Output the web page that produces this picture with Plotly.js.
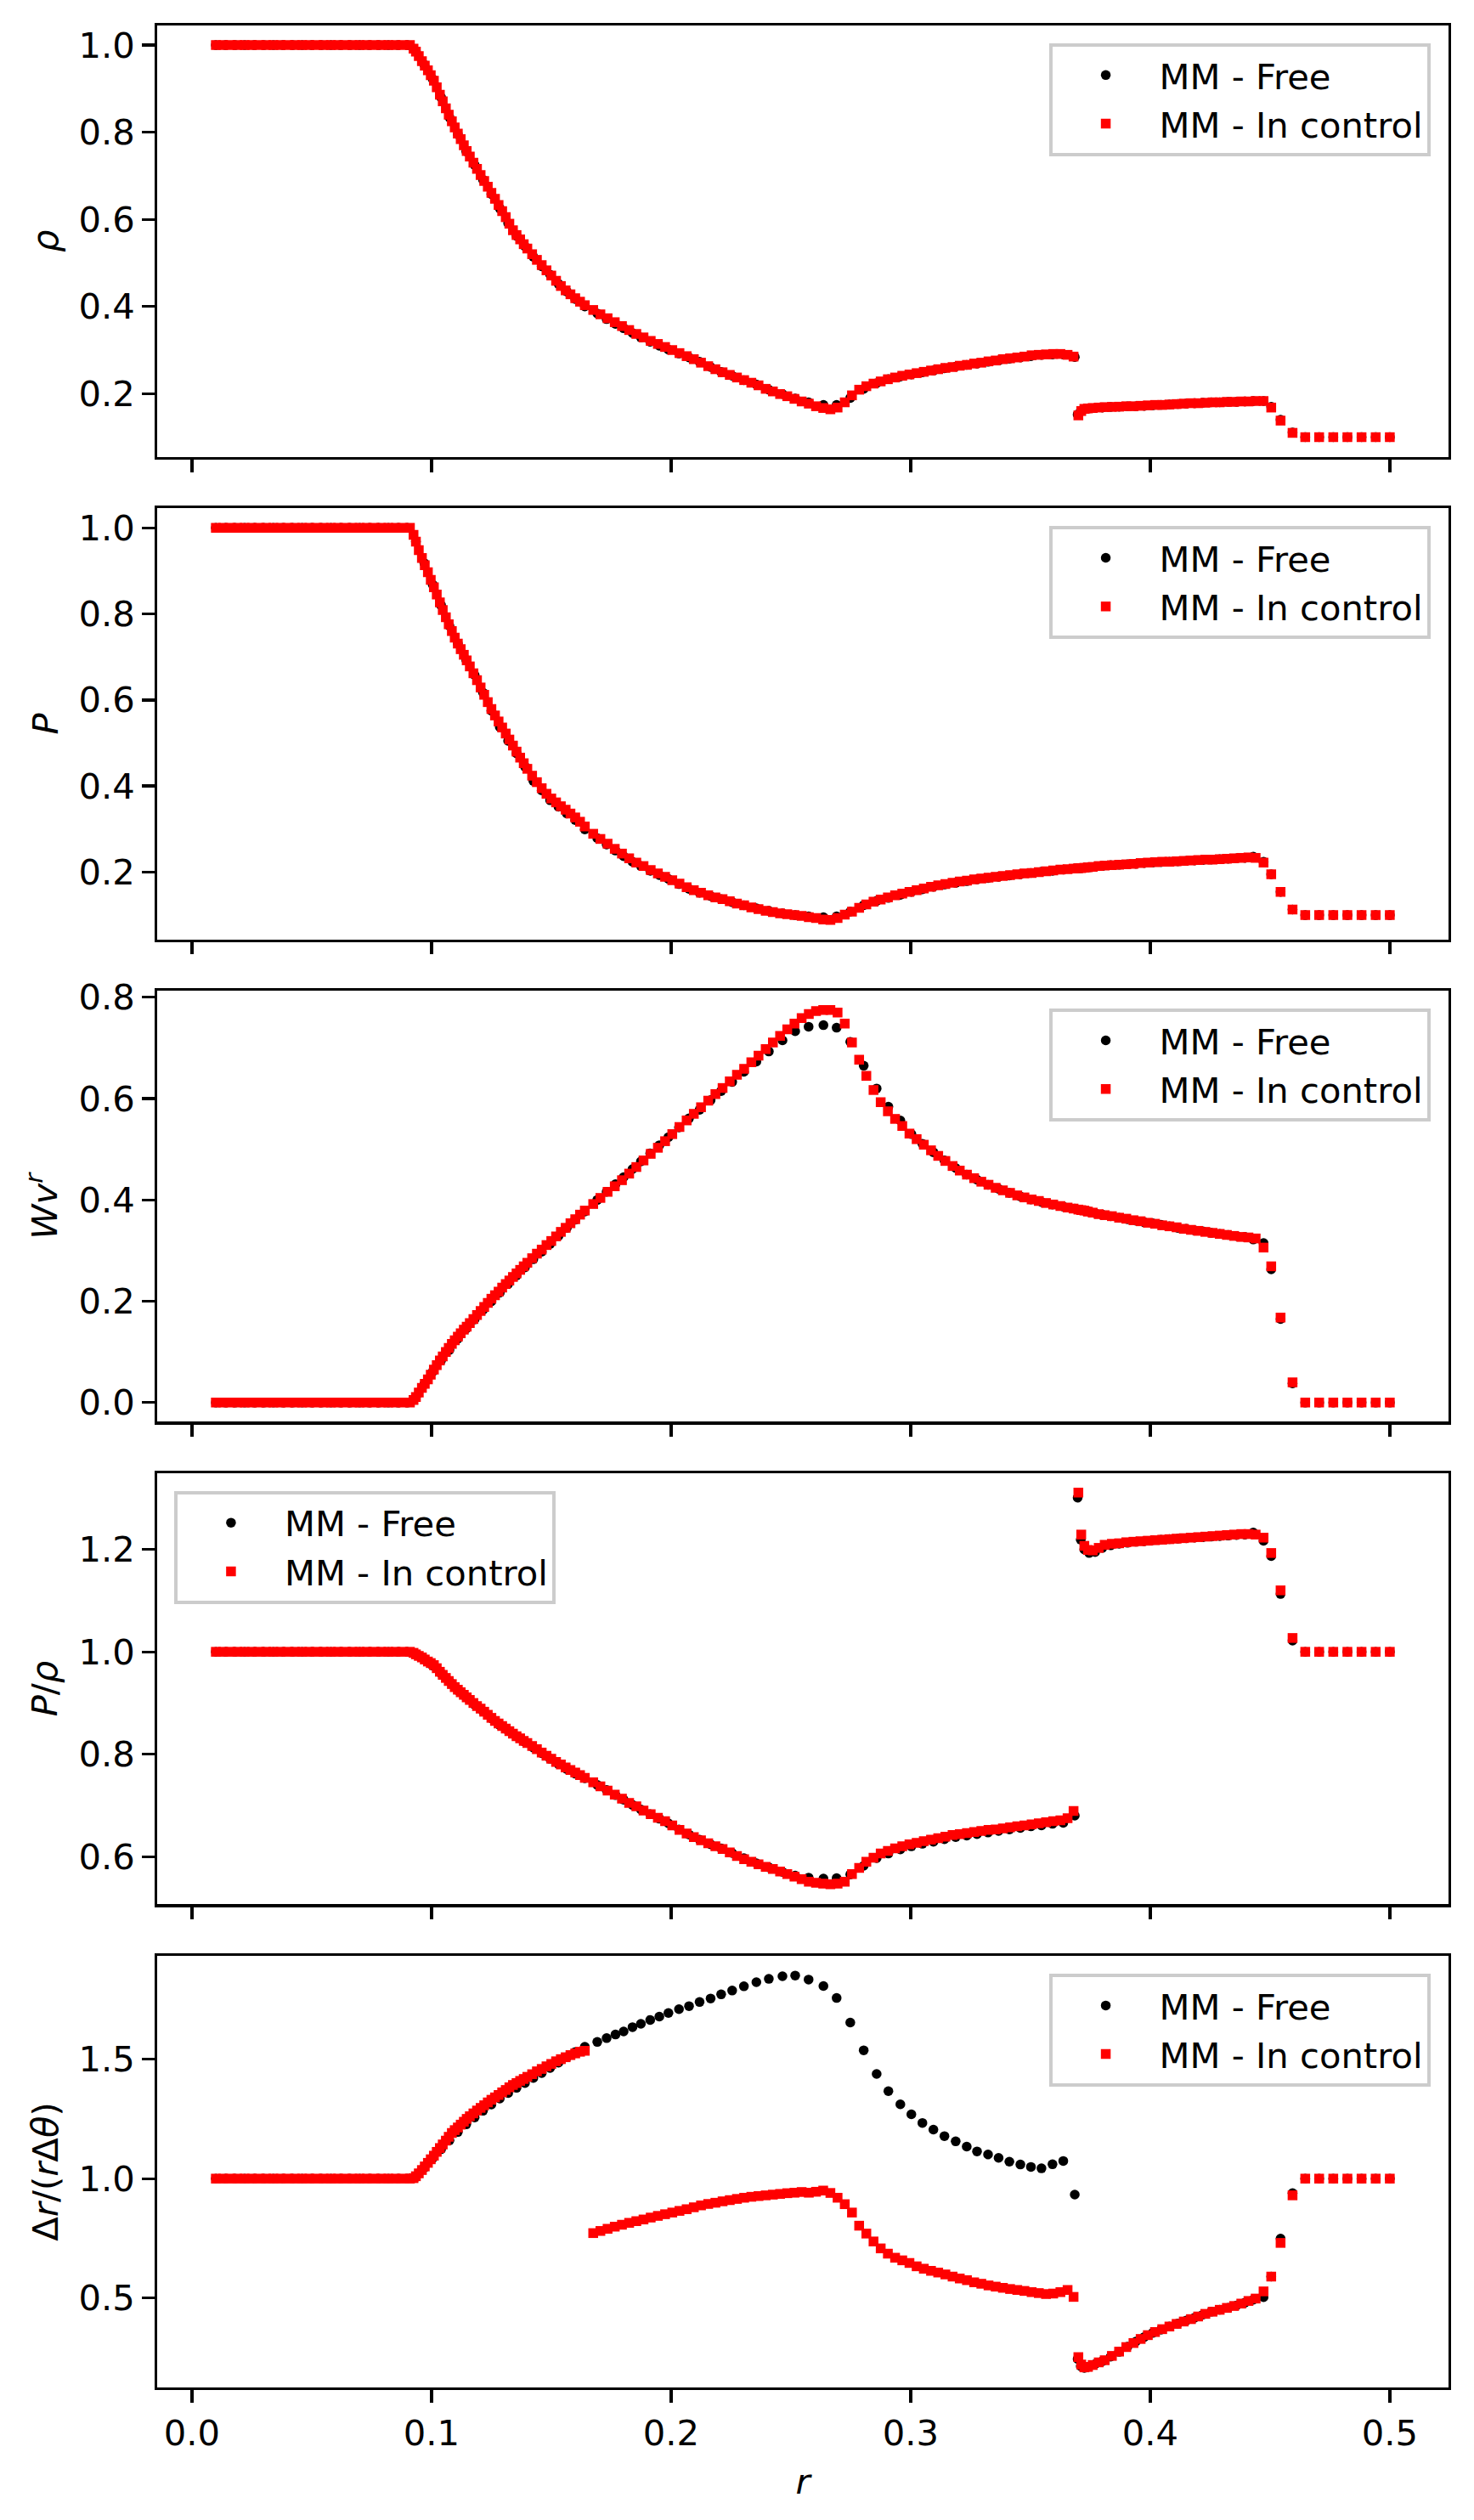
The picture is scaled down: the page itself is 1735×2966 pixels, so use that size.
<!DOCTYPE html>
<html><head><meta charset="utf-8">
<script src="https://cdn.plot.ly/plotly-3.0.1.min.js"></script>
<style>html,body{margin:0;padding:0;background:#fff}</style>
</head><body>
<div id="chart" style="width:1735px;height:2966px"></div>
<script>
// ---------------- data: MM - Free (black dots) ----------------
const rFree = [
 0.010,0.014,0.018,0.022,0.026,0.030,0.034,0.038,0.042,0.046,0.050,0.054,0.058,0.062,0.066,0.070,0.074,0.078,0.082,0.086,0.090,
 0.0935,0.0970,0.1005,0.1040,0.1075,0.1110,0.1145,0.1180,0.1215,0.1250,0.1285,0.1320,0.1355,0.1390,0.1425,0.1460,0.1495,0.1530,0.1565,0.1600,
 0.1640,0.1692,0.1731,0.1768,0.1802,0.1839,0.1874,0.1913,0.1951,0.1989,0.2033,0.2075,0.2119,0.2165,0.2209,0.2255,0.2304,0.2356,0.2408,0.2465,
 0.2518,0.2574,0.2636,0.2691,0.2748,0.2804,0.2858,0.2907,0.2957,0.3003,0.3049,0.3095,0.3141,0.3188,0.3234,0.3277,0.3323,0.3367,0.3412,0.3458,
 0.3502,0.3546,0.3592,0.3637,0.3685,
 0.3697,0.3710,0.3725,0.3745,0.3770,0.3800,0.3835,0.3870,0.3905,0.3940,0.3975,0.4010,0.4045,0.4080,0.4115,0.4150,0.4185,0.4220,0.4255,0.4290,
 0.4325,0.4360,0.4395,0.4430,
 0.4473,0.4505,0.4544,0.4594,0.4647,0.4705,0.4764,0.4823,0.4882,0.4941,0.5000
];
const rhoFree = [
 1,1,1,1,1,1,1,1,1,1,1,1,1,1,1,1,1,1,1,1,1,
 0.985,0.955,0.922,0.880,0.834,0.795,0.756,0.725,0.691,0.658,0.625,0.591,0.562,0.538,0.514,0.492,0.473,0.452,0.434,0.417,
 0.400,0.384,0.371,0.360,0.350,0.339,0.329,0.319,0.310,0.301,0.292,0.283,0.273,0.261,0.250,0.241,0.231,0.221,0.209,0.199,
 0.189,0.180,0.174,0.174,0.190,0.211,0.224,0.233,0.239,0.244,0.249,0.253,0.258,0.262,0.266,0.269,0.273,0.276,0.280,0.283,
 0.286,0.289,0.290,0.290,0.284,
 0.152,0.160,0.164,0.166,0.167,0.168,0.1695,0.170,0.171,0.171,0.172,0.173,0.174,0.175,0.176,0.177,0.178,0.179,0.180,0.180,
 0.181,0.181,0.182,0.183,
 0.183,0.170,0.140,0.111,0.1,0.1,0.1,0.1,0.1,0.1,0.1
];
const pFree = [
 1,1,1,1,1,1,1,1,1,1,1,1,1,1,1,1,1,1,1,1,1,
 0.968,0.918,0.868,0.820,0.772,0.731,0.693,0.658,0.617,0.575,0.537,0.505,0.476,0.445,0.412,0.390,0.367,0.352,0.336,0.321,
 0.299,0.279,0.264,0.250,0.237,0.224,0.214,0.203,0.193,0.184,0.172,0.161,0.152,0.144,0.137,0.130,0.123,0.116,0.110,0.104,
 0.100,0.097,0.095,0.097,0.108,0.123,0.133,0.140,0.147,0.154,0.160,0.166,0.171,0.175,0.179,0.183,0.186,0.189,0.192,0.195,
 0.198,0.201,0.203,0.206,0.208,
 0.209,0.209,0.210,0.211,0.212,0.214,0.216,0.217,0.218,0.219,0.221,0.222,0.223,0.224,0.225,0.226,0.227,0.228,0.229,0.230,
 0.231,0.232,0.233,0.236,
 0.224,0.195,0.154,0.113,0.1,0.1,0.1,0.1,0.1,0.1,0.1
];
const wvFree = [
 0,0,0,0,0,0,0,0,0,0,0,0,0,0,0,0,0,0,0,0,0,
 0.011,0.036,0.061,0.083,0.104,0.126,0.146,0.164,0.183,0.200,0.217,0.234,0.251,0.267,0.283,0.298,0.313,0.329,0.345,0.361,
 0.377,0.400,0.416,0.431,0.445,0.461,0.476,0.492,0.508,0.524,0.543,0.561,0.578,0.597,0.615,0.633,0.653,0.673,0.693,0.715,
 0.733,0.742,0.745,0.740,0.712,0.665,0.620,0.584,0.557,0.530,0.511,0.494,0.478,0.463,0.450,0.440,0.430,0.422,0.414,0.407,
 0.401,0.396,0.391,0.387,0.383,
 0.381,0.380,0.379,0.377,0.374,0.371,0.368,0.365,0.362,0.359,0.356,0.354,0.351,0.348,0.345,0.343,0.340,0.338,0.335,0.333,
 0.331,0.329,0.327,0.322,
 0.315,0.263,0.165,0.038,0,0,0,0,0,0,0
];
const prhoFree = [
 1,1,1,1,1,1,1,1,1,1,1,1,1,1,1,1,1,1,1,1,1,
 0.995,0.986,0.973,0.958,0.943,0.925,0.911,0.897,0.884,0.870,0.857,0.846,0.835,0.824,0.813,0.802,0.791,0.781,0.771,0.762,
 0.753,0.740,0.730,0.720,0.711,0.701,0.692,0.683,0.674,0.665,0.653,0.643,0.633,0.624,0.616,0.607,0.597,0.587,0.579,0.570,
 0.563,0.559,0.557,0.558,0.565,0.582,0.597,0.606,0.614,0.620,0.625,0.629,0.634,0.638,0.641,0.644,0.647,0.650,0.653,0.656,
 0.659,0.661,0.664,0.666,0.680,
 1.301,1.219,1.200,1.193,1.195,1.203,1.208,1.211,1.213,1.215,1.216,1.218,1.219,1.220,1.221,1.222,1.223,1.224,1.225,1.226,
 1.227,1.228,1.229,1.233,
 1.217,1.187,1.113,1.022,1,1,1,1,1,1,1
];
const aspFree = [
 1,1,1,1,1,1,1,1,1,1,1,1,1,1,1,1,1,1,1,1,1,
 1.006,1.045,1.085,1.123,1.160,1.195,1.227,1.256,1.284,1.310,1.335,1.358,1.380,1.400,1.421,1.442,1.463,1.485,1.508,1.530,
 1.552,1.572,1.588,1.603,1.616,1.634,1.648,1.664,1.678,1.693,1.709,1.722,1.739,1.754,1.771,1.787,1.805,1.822,1.836,1.847,
 1.850,1.833,1.806,1.756,1.653,1.537,1.438,1.366,1.311,1.269,1.233,1.205,1.178,1.156,1.134,1.114,1.101,1.087,1.071,1.059,
 1.049,1.043,1.060,1.074,0.933,
 0.245,0.215,0.208,0.213,0.224,0.236,0.255,0.275,0.297,0.318,0.337,0.354,0.368,0.381,0.394,0.406,0.418,0.431,0.443,0.451,
 0.459,0.469,0.481,0.493,
 0.504,0.590,0.749,0.939,1,1,1,1,1,1,1
];

// ---------------- data: MM - In control (red squares) ----------------
const rCtrl = [
 0.010,0.013,0.016,0.019,0.022,0.025,0.028,0.031,0.034,0.037,0.040,0.043,0.046,0.049,0.052,0.055,0.058,0.061,0.064,0.067,
 0.070,0.073,0.076,0.079,0.082,0.085,0.088,0.091,
 0.0925,0.0935,0.0947,0.0960,0.0972,0.0985,0.0997,0.1010,0.1022,0.1035,0.1047,0.1060,0.1072,0.1085,0.1097,0.1110,0.1122,0.1135,0.1147,0.1160,
 0.1175,0.1190,0.1205,0.1220,0.1235,0.1250,0.1265,0.1280,0.1295,0.1310,0.1325,0.1340,0.1355,0.1370,0.1385,0.1400,
 0.1420,0.1440,0.1460,0.1480,0.1500,0.1520,0.1540,0.1560,0.1580,0.1600,0.1620,0.1640,
 0.1675,0.1705,0.1735,0.1765,0.1795,0.1825,0.1855,0.1885,0.1915,0.1945,0.1975,0.2005,0.2035,0.2065,0.2095,0.2125,0.2155,0.2185,0.2215,0.2245,
 0.2275,0.2305,0.2335,0.2365,0.2395,0.2425,0.2455,0.2485,0.2515,0.2545,0.2575,0.2605,0.2635,0.2665,0.2695,0.2725,0.2755,0.2785,0.2815,0.2845,
 0.2875,0.2905,0.2935,0.2965,0.2995,0.3025,0.3055,0.3085,0.3115,0.3145,0.3175,0.3205,0.3235,0.3265,0.3295,0.3325,0.3355,0.3385,0.3415,0.3445,
 0.3475,0.3505,0.3535,0.3565,0.3595,0.3625,0.3655,0.3680,
 0.3700,0.3712,0.3725,0.3740,0.3760,0.3785,0.3810,0.3840,0.3870,0.3900,0.3930,0.3960,0.3990,0.4020,0.4050,0.4080,0.4110,0.4140,0.4170,0.4200,
 0.4230,0.4260,0.4290,0.4320,0.4350,0.4380,0.4410,0.4440,
 0.4473,0.4505,0.4544,0.4594,0.4647,0.4705,0.4764,0.4823,0.4882,0.4941,0.5000
];
const rhoCtrl = [
 1,1,1,1,1,1,1,1,1,1,1,1,1,1,1,1,1,1,1,1,1,1,1,1,1,1,1,1,
 0.992,0.985,0.975,0.963,0.953,0.942,0.931,0.918,0.903,0.886,0.871,0.855,0.840,0.825,0.811,0.797,0.784,0.770,0.757,0.744,
 0.730,0.716,0.702,0.688,0.675,0.661,0.647,0.633,0.619,0.605,0.590,0.575,0.564,0.554,0.543,0.533,
 0.520,0.507,0.495,0.483,0.471,0.459,0.447,0.437,0.428,0.419,0.411,0.403,
 0.392,0.382,0.373,0.364,0.355,0.346,0.337,0.329,0.321,0.314,0.307,0.300,0.293,0.286,0.279,0.271,0.263,0.256,0.249,0.243,
 0.237,0.231,0.225,0.219,0.211,0.205,0.199,0.194,0.188,0.182,0.177,0.171,0.167,0.164,0.168,0.180,0.196,0.209,0.217,0.223,
 0.228,0.233,0.237,0.241,0.244,0.247,0.250,0.253,0.256,0.259,0.261,0.264,0.266,0.269,0.271,0.274,0.276,0.279,0.281,0.283,
 0.285,0.288,0.289,0.290,0.291,0.291,0.289,0.285,
 0.150,0.160,0.165,0.166,0.167,0.168,0.169,0.1695,0.170,0.171,0.171,0.172,0.173,0.174,0.174,0.175,0.176,0.177,0.178,0.178,
 0.179,0.180,0.180,0.181,0.181,0.182,0.182,0.183,
 0.183,0.168,0.138,0.110,0.1,0.1,0.1,0.1,0.1,0.1,0.1
];
const pCtrl = [
 1,1,1,1,1,1,1,1,1,1,1,1,1,1,1,1,1,1,1,1,1,1,1,1,1,1,1,1,
 0.984,0.968,0.948,0.930,0.913,0.897,0.879,0.862,0.845,0.827,0.809,0.792,0.776,0.760,0.745,0.731,0.718,0.705,0.692,0.678,
 0.662,0.646,0.629,0.612,0.595,0.579,0.564,0.550,0.536,0.522,0.508,0.494,0.480,0.466,0.453,0.440,
 0.424,0.409,0.395,0.382,0.371,0.362,0.353,0.345,0.336,0.327,0.317,0.306,
 0.289,0.277,0.266,0.254,0.243,0.232,0.222,0.214,0.205,0.197,0.189,0.181,0.173,0.165,0.158,0.152,0.146,0.141,0.137,0.132,
 0.127,0.123,0.118,0.114,0.110,0.107,0.104,0.102,0.100,0.098,0.095,0.093,0.090,0.089,0.093,0.101,0.108,0.117,0.125,0.131,
 0.136,0.141,0.146,0.150,0.154,0.158,0.162,0.166,0.169,0.172,0.175,0.178,0.180,0.183,0.185,0.187,0.189,0.191,0.193,0.195,
 0.197,0.198,0.200,0.202,0.204,0.206,0.207,0.208,
 0.209,0.209,0.210,0.211,0.212,0.214,0.215,0.216,0.217,0.218,0.219,0.221,0.222,0.223,0.224,0.224,0.225,0.226,0.227,0.228,
 0.229,0.229,0.230,0.231,0.232,0.233,0.234,0.233,
 0.222,0.195,0.154,0.113,0.1,0.1,0.1,0.1,0.1,0.1,0.1
];
const wvCtrl = [
 0,0,0,0,0,0,0,0,0,0,0,0,0,0,0,0,0,0,0,0,0,0,0,0,0,0,0,0,
 0.005,0.011,0.020,0.029,0.037,0.046,0.055,0.065,0.074,0.083,0.091,0.100,0.108,0.116,0.123,0.130,0.137,0.144,0.150,0.157,
 0.165,0.173,0.181,0.189,0.197,0.205,0.212,0.219,0.227,0.234,0.241,0.248,0.255,0.262,0.269,0.276,
 0.285,0.294,0.302,0.311,0.319,0.328,0.337,0.345,0.354,0.362,0.371,0.379,
 0.392,0.404,0.416,0.427,0.439,0.452,0.465,0.478,0.491,0.503,0.516,0.530,0.544,0.557,0.570,0.583,0.596,0.609,0.621,0.634,
 0.647,0.659,0.672,0.685,0.698,0.711,0.724,0.737,0.748,0.759,0.767,0.773,0.775,0.775,0.770,0.748,0.711,0.677,0.645,0.617,
 0.593,0.575,0.560,0.546,0.531,0.520,0.509,0.498,0.487,0.477,0.467,0.458,0.450,0.443,0.436,0.430,0.424,0.419,0.414,0.409,
 0.405,0.401,0.398,0.394,0.391,0.388,0.385,0.383,
 0.381,0.380,0.379,0.377,0.375,0.372,0.370,0.368,0.365,0.363,0.360,0.358,0.355,0.353,0.350,0.348,0.346,0.343,0.341,0.339,
 0.337,0.335,0.333,0.331,0.329,0.327,0.326,0.324,
 0.306,0.269,0.168,0.040,0,0,0,0,0,0,0
];
const prhoCtrl = [
 1,1,1,1,1,1,1,1,1,1,1,1,1,1,1,1,1,1,1,1,1,1,1,1,1,1,1,1,
 0.998,0.995,0.992,0.989,0.985,0.981,0.978,0.974,0.968,0.961,0.955,0.949,0.943,0.937,0.931,0.926,0.921,0.916,0.911,0.906,
 0.900,0.894,0.889,0.883,0.877,0.871,0.865,0.860,0.855,0.850,0.845,0.840,0.835,0.831,0.826,0.822,
 0.816,0.810,0.803,0.797,0.791,0.785,0.780,0.774,0.769,0.764,0.759,0.754,
 0.745,0.737,0.729,0.721,0.713,0.705,0.698,0.690,0.683,0.676,0.669,0.661,0.652,0.645,0.638,0.632,0.626,0.620,0.615,0.608,
 0.601,0.595,0.590,0.585,0.580,0.576,0.571,0.566,0.561,0.556,0.551,0.549,0.547,0.546,0.547,0.551,0.566,0.578,0.590,0.598,
 0.606,0.611,0.616,0.620,0.624,0.627,0.630,0.633,0.636,0.639,0.642,0.644,0.646,0.648,0.650,0.652,0.653,0.655,0.657,0.659,
 0.661,0.663,0.665,0.667,0.669,0.671,0.675,0.689,
 1.311,1.229,1.207,1.199,1.198,1.203,1.209,1.211,1.212,1.214,1.215,1.216,1.217,1.218,1.219,1.220,1.221,1.222,1.223,1.224,
 1.225,1.226,1.227,1.228,1.229,1.230,1.230,1.229,
 1.223,1.193,1.120,1.027,1,1,1,1,1,1,1
];
const aspCtrl = [
 1,1,1,1,1,1,1,1,1,1,1,1,1,1,1,1,1,1,1,1,1,1,1,1,1,1,1,1,
 1.002,1.010,1.022,1.036,1.051,1.066,1.081,1.096,1.112,1.128,1.143,1.159,1.175,1.191,1.203,1.214,1.226,1.238,1.250,1.261,
 1.273,1.285,1.296,1.307,1.319,1.330,1.340,1.350,1.361,1.371,1.382,1.392,1.400,1.409,1.417,1.426,
 1.437,1.449,1.459,1.470,1.480,1.491,1.500,1.508,1.517,1.524,1.531,1.535,
 0.772,0.781,0.790,0.799,0.807,0.815,0.822,0.829,0.837,0.844,0.851,0.858,0.865,0.872,0.880,0.888,0.894,0.899,0.905,0.910,
 0.915,0.920,0.924,0.927,0.930,0.933,0.936,0.939,0.941,0.944,0.941,0.945,0.950,0.940,0.920,0.893,0.858,0.803,0.770,0.737,
 0.708,0.686,0.669,0.658,0.647,0.633,0.623,0.614,0.607,0.599,0.590,0.582,0.575,0.566,0.560,0.553,0.548,0.543,0.538,0.534,
 0.530,0.525,0.521,0.517,0.519,0.525,0.534,0.505,
 0.253,0.222,0.210,0.212,0.220,0.231,0.240,0.258,0.276,0.295,0.312,0.329,0.345,0.358,0.370,0.381,0.392,0.402,0.412,0.423,
 0.434,0.443,0.451,0.459,0.467,0.477,0.488,0.498,
 0.528,0.590,0.731,0.930,1,1,1,1,1,1,1
];

// ---------------- labels / ticks ----------------
const seriesNames = ['MM - Free', 'MM - In control'];
const yTitles = ['<i>ρ</i>', '<i>P</i>', '<i>Wv</i><sup><i>r</i></sup>', '<i>P</i>/<i>ρ</i>', 'Δ<i>r</i>/(<i>r</i>Δ<i>θ</i>)'];
const xTitle = '<i>r</i>';
const yTickVals = [[0.2,0.4,0.6,0.8,1.0],[0.2,0.4,0.6,0.8,1.0],[0.0,0.2,0.4,0.6,0.8],[0.6,0.8,1.0,1.2],[0.5,1.0,1.5]];
const xTickVals = [0.0,0.1,0.2,0.3,0.4,0.5];

// ---------------- figure ----------------
const freeY = [rhoFree, pFree, wvFree, prhoFree, aspFree];
const ctrlY = [rhoCtrl, pCtrl, wvCtrl, prhoCtrl, aspCtrl];
const yRanges = [[0.055,1.045],[0.0437,1.0455],[-0.0376,0.8128],[0.507,1.349],[0.126,1.932]];
const domains = [[0.8174,1.0],[0.6131,0.7956],[0.4089,0.5913],[0.2046,0.3871],[0.0,0.1827]];
const FONT = 'DejaVu Sans, Liberation Sans, sans-serif';
const FS = 41.7;

const traces = [];
const layout = {
  width: 1735, height: 2966,
  margin: {l: 185, r: 30, t: 30, b: 156, pad: 0},
  paper_bgcolor: '#ffffff', plot_bgcolor: '#ffffff',
  font: {family: FONT, size: FS, color: '#000000'},
  showlegend: true
};
for (let i = 0; i < 5; i++) {
  const n = i + 1;
  const xa = n === 1 ? 'x' : 'x' + n;
  const ya = n === 1 ? 'y' : 'y' + n;
  const lg = n === 1 ? 'legend' : 'legend' + n;
  traces.push({
    type: 'scatter', mode: 'markers', x: rFree, y: freeY[i], xaxis: xa, yaxis: ya,
    name: seriesNames[0], legend: lg,
    marker: {symbol: 'circle', size: 11.5, color: '#000000'}
  });
  traces.push({
    type: 'scatter', mode: 'markers', x: rCtrl, y: ctrlY[i], xaxis: xa, yaxis: ya,
    name: seriesNames[1], legend: lg,
    marker: {symbol: 'square', size: 11.5, color: '#ff0000'}
  });
  const axCommon = {
    showline: true, linewidth: 3.3, linecolor: '#000000', mirror: true,
    ticks: 'outside', ticklen: 14.6, tickwidth: 3.3, tickcolor: '#000000',
    showgrid: false, zeroline: false, tickformat: '.1f',
    tickfont: {family: FONT, size: FS, color: '#000000'}
  };
  const xax = Object.assign({}, axCommon, {
    domain: [0, 1], anchor: ya, range: [-0.0145, 0.5245],
    tickmode: 'array', tickvals: xTickVals, showticklabels: n === 5
  });
  if (n === 5) xax.title = {text: xTitle, font: {family: FONT, size: FS}, standoff: 20};
  layout['xaxis' + (n === 1 ? '' : n)] = xax;
  layout['yaxis' + (n === 1 ? '' : n)] = Object.assign({}, axCommon, {
    domain: domains[i], anchor: xa, range: yRanges[i],
    tickmode: 'array', tickvals: yTickVals[i],
    title: {text: yTitles[i], font: {family: FONT, size: FS}, standoff: 12}
  });
  const topY = domains[i][1] - 0.00745;
  const leg = {
    bgcolor: 'rgba(255,255,255,0.8)', bordercolor: '#cccccc', borderwidth: 4,
    font: {family: FONT, size: FS, color: '#000000'},
    itemwidth: 116, tracegroupgap: 0,
    yanchor: 'top', y: topY
  };
  if (n === 4) { leg.x = 0.0131; leg.xanchor = 'left'; }
  else { leg.x = 0.9859; leg.xanchor = 'right'; }
  layout[lg] = leg;
}
Plotly.newPlot('chart', traces, layout, {staticPlot: true, displayModeBar: false});
</script>
</body></html>
